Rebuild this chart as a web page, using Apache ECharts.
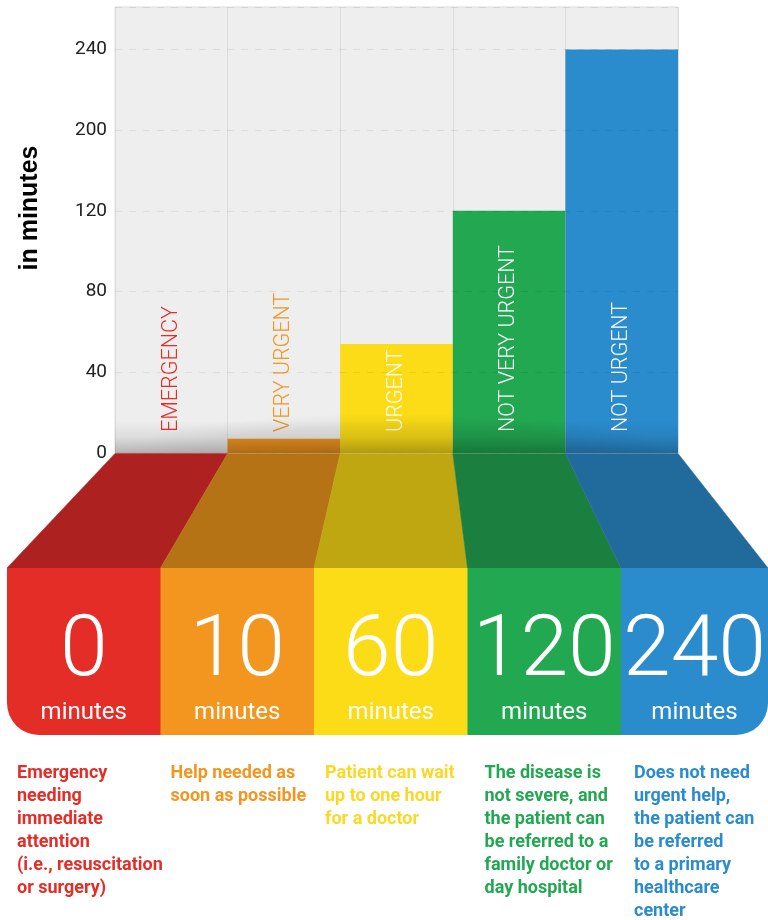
<!DOCTYPE html>
<html>
<head>
<meta charset="utf-8">
<script src="https://cdn.jsdelivr.net/npm/echarts@6/dist/echarts.min.js"></script>
<style>
html,body{margin:0;padding:0;background:#ffffff;}
#chart{width:768px;height:920px;}
</style>
</head>
<body>
<div id="chart"></div>
<script>
// ---- data ----
const categories = ['EMERGENCY', 'VERY URGENT', 'URGENT', 'NOT VERY URGENT', 'NOT URGENT'];
// bar heights as drawn against the (unevenly labelled) axis
const barHeights = [0, 7, 54, 120, 200];
// tick labels printed at axis positions 0,40,80,120,160,200
const tickLabels = ['0', '40', '80', '120', '200', '240'];
const waitMinutes = ['0', '10', '60', '120', '240'];
const unitLabel = 'minutes';
const axisTitle = 'in minutes';
const descriptions = [
  'Emergency\nneeding\nimmediate\nattention\n(i.e., resuscitation\nor surgery)',
  'Help needed as\nsoon as possible',
  'Patient can wait\nup to one hour\nfor a doctor',
  'The disease is\nnot severe, and\nthe patient can\nbe referred to a\nfamily doctor or\nday hospital',
  'Does not need\nurgent help,\nthe patient can\nbe referred\nto a primary\nhealthcare\ncenter'
];
const colors = ['#e52d27', '#f29620', '#fbdc16', '#22a851', '#2a8bcd'];
const darkColors = ['#ad2121', '#b57316', '#bfa711', '#1b7f3f', '#206a9c'];
const textColors = ['#e52d27', '#f29620', '#fcd826', '#22a851', '#2a8bcd'];

const chart = echarts.init(document.getElementById('chart'), null, {renderer: 'canvas'});

chart.setOption({
  animation: false,
  textStyle: {fontFamily: 'Roboto'},
  grid: {
    left: 115, right: 90, top: 7, bottom: 467,
    show: true, backgroundColor: '#eeeeee', borderColor: '#dddddd', borderWidth: 1
  },
  xAxis: {
    type: 'category',
    data: categories,
    axisLine: {show: false},
    axisTick: {show: false},
    axisLabel: {show: false},
    splitLine: {show: true, interval: 0, lineStyle: {color: '#dcdcdc', width: 1}}
  },
  yAxis: {
    type: 'value',
    min: 0, max: 221, interval: 40,
    z: 3,
    axisLine: {show: false},
    axisTick: {show: false},
    axisLabel: {
      fontSize: 19, color: '#222222', margin: 8, fontFamily: 'Roboto',
      formatter: function (v) {
        const k = v / 40;
        return (Number.isInteger(k) && tickLabels[k] !== undefined) ? tickLabels[k] : '';
      }
    },
    splitLine: {show: true, lineStyle: {type: [7, 7], color: 'rgba(0,0,0,0.07)', width: 1}}
  },
  series: [{
    type: 'bar',
    barWidth: '100%',
    data: barHeights.map(function (v, i) {
      return {
        value: v,
        itemStyle: {color: colors[i]},
        label: {color: v > 20 ? '#ffffff' : colors[i]}
      };
    }),
    label: {
      show: true,
      position: 'insideBottom',
      distance: 21,
      rotate: 90,
      align: 'left',
      verticalAlign: 'middle',
      fontSize: 21.5,
      fontWeight: 300,
      fontFamily: 'Roboto',
      formatter: function (p) { return p.name; }
    }
  }]
});

// ---- decorations derived from the axis scale ----
const n = categories.length;
const p0 = chart.convertToPixel({gridIndex: 0}, [0, 0]);
const p1 = chart.convertToPixel({gridIndex: 0}, [1, 0]);
const bw = p1[0] - p0[0];
const baseY = p0[1];
const barLeft0 = p0[0] - bw / 2;
const plotW = bw * n;
const boxL = 7, boxR = 768, boxTop = 568, boxBottom = 735, boxW = 153.5;
const descIndent = [10, 10, 11, 17, 13];

const g = [];

// shadow at the base of the columns
g.push({
  type: 'rect', z: 3, silent: true,
  shape: {x: barLeft0, y: baseY - 32, width: plotW, height: 32},
  style: {fill: {type: 'linear', x: 0, y: 0, x2: 0, y2: 1, colorStops: [
    {offset: 0, color: 'rgba(0,0,0,0)'},
    {offset: 0.5, color: 'rgba(0,0,0,0.07)'},
    {offset: 1, color: 'rgba(0,0,0,0.24)'}
  ]}}
});
g.push({
  type: 'sector', z: 3, silent: true,
  x: barLeft0 + plotW / 2, y: baseY, scaleX: (plotW / 2) / 40,
  shape: {cx: 0, cy: 0, r: 40, r0: 0, startAngle: Math.PI, endAngle: Math.PI * 2},
  style: {fill: {type: 'radial', x: 0, y: 0, r: 40, global: true, colorStops: [
    {offset: 0, color: 'rgba(0,0,0,0.08)'},
    {offset: 0.7, color: 'rgba(0,0,0,0.05)'},
    {offset: 1, color: 'rgba(0,0,0,0)'}
  ]}}
});

for (let i = 0; i < n; i++) {
  const tx0 = barLeft0 + i * bw, tx1 = tx0 + bw;
  const bx0 = boxL + i * boxW;
  const bx1 = Math.min(bx0 + boxW, boxR);
  const bcx = (bx0 + bx1) / 2;
  // perspective floor
  g.push({
    type: 'polygon', z: 4, silent: true,
    shape: {points: [[tx0, baseY + 0.5], [tx1, baseY + 0.5], [bx1, boxTop], [bx0, boxTop]]},
    style: {fill: darkColors[i], stroke: darkColors[i], lineWidth: 0.5}
  });
  // front box
  let r = [0, 0, 0, 0];
  if (i === 0) r = [0, 0, 0, 32];
  if (i === n - 1) r = [0, 0, 32, 0];
  g.push({
    type: 'rect', z: 4, silent: true,
    shape: {x: bx0, y: boxTop, width: (bx1 - bx0) + (i < n - 1 ? 0.5 : 0), height: boxBottom - boxTop, r: r},
    style: {fill: colors[i]}
  });
  g.push({
    type: 'text', z: 5, silent: true,
    x: bcx, y: 653,
    style: {text: waitMinutes[i], fill: '#ffffff', font: '300 86px Roboto', align: 'center', verticalAlign: 'middle'}
  });
  g.push({
    type: 'text', z: 5, silent: true,
    x: bcx, y: 713,
    style: {text: unitLabel, fill: '#ffffff', font: '24px Roboto', align: 'center', verticalAlign: 'middle'}
  });
  g.push({
    type: 'text', z: 5, silent: true,
    x: bx0 + descIndent[i], y: 762,
    style: {text: descriptions[i], fill: textColors[i], font: 'bold 18px Roboto', lineHeight: 23, align: 'left', verticalAlign: 'top'}
  });
}

// axis title
g.push({
  type: 'text', z: 5, silent: true,
  x: 30, y: 208, rotation: Math.PI / 2,
  style: {text: axisTitle, fill: '#000000', font: 'bold 25px "Liberation Sans"', align: 'center', verticalAlign: 'middle'}
});

chart.setOption({graphic: {elements: g}});
</script>
</body>
</html>
